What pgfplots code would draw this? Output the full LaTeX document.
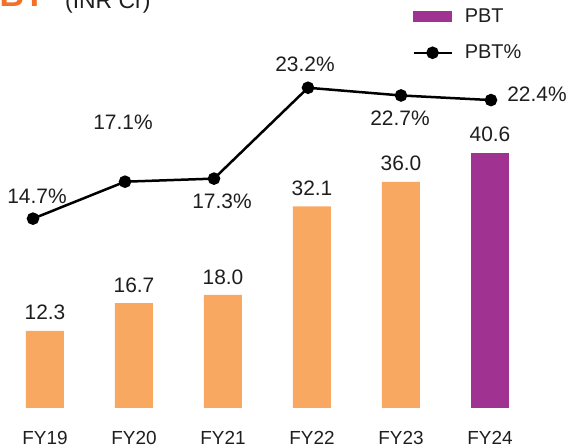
\documentclass[border=0pt]{standalone}
\usepackage{pgfplots}
\pgfplotsset{compat=1.18}
\usepackage{fontspec}
\setmainfont{Liberation Sans}
\definecolor{barorange}{RGB}{249,168,98}
\definecolor{barpurple}{RGB}{160,50,145}
\definecolor{titleorange}{RGB}{242,112,40}
\definecolor{txt}{RGB}{30,30,30}
\begin{document}
\begin{tikzpicture}
\useasboundingbox (0,0) rectangle (570bp,448bp);
\clip (0,0) rectangle (570bp,448bp);
\begin{axis}[at={(0,0)}, anchor=south west, scale only axis, width=570bp, height=448bp,
 xmin=-0.5056, xmax=5.899, ymin=-6.37, ymax=64.97,
 axis line style={draw=none}, major tick length=0pt, ytick=\empty,
 xtick={0,...,5}, xticklabels={FY19,FY20,FY21,FY22,FY23,FY24},
 xticklabel style={anchor=base, yshift=4bp, inner sep=0pt, font=\fontsize{19}{22}\selectfont, text=txt},
 ybar, bar width=38bp, bar shift=0pt, clip=false]
\addplot[fill=barorange, draw=none] coordinates {(0,12.3)(1,16.7)(2,18.0)(3,32.1)(4,36.0)};
\addplot[fill=barpurple, draw=none] coordinates {(5,40.6)};
\begin{scope}[every node/.style={font=\fontsize{21}{25}\selectfont, text=txt, inner sep=0pt}]
\node[yshift=18bp] at (axis cs:0,12.3) {12.3};
\node[yshift=18bp] at (axis cs:1,16.7) {16.7};
\node[yshift=18bp] at (axis cs:2,18.0) {18.0};
\node[yshift=18bp] at (axis cs:3,32.1) {32.1};
\node[yshift=19bp] at (axis cs:4,36.0) {36.0};
\node[yshift=19bp] at (axis cs:5,40.6) {40.6};
\end{scope}
\end{axis}
\begin{axis}[at={(0,0)}, anchor=south west, scale only axis, width=570bp, height=448bp,
 xmin=-0.5056, xmax=5.899, ymin=-0.195, ymax=28.9, hide axis, clip=false,
 legend style={draw=none, fill=none, at={(axis description cs:0.723,0.985)}, anchor=north west,
   inner sep=0pt, font=\fontsize{20}{24}\selectfont, text=txt, row sep=17bp, column sep=10bp},
 legend cell align=left]
\addlegendimage{legend image code/.code={\fill[barpurple] (0bp,-5bp) rectangle (38bp,5bp);}}
\addlegendentry{PBT}
\addplot[black, line width=2.5bp, mark=*, mark size=5bp,
  legend image code/.code={\draw[black,line width=2.5bp] (0bp,0bp)--(38bp,0bp); \fill[black] (19bp,0bp) circle (5bp);}]
  coordinates {(-0.135,14.7)(0.899,17.1)(1.899,17.3)(2.955,23.2)(4.0,22.7)(5.011,22.4)};
\addlegendentry{PBT\%}
\begin{scope}[every node/.style={font=\fontsize{21}{25}\selectfont, text=txt, inner sep=0pt}]
\node[xshift=4bp, yshift=22bp] at (axis cs:-0.135,14.7) {14.7\%};
\node[xshift=-2bp, yshift=59bp] at (axis cs:0.899,17.1) {17.1\%};
\node[xshift=8bp, yshift=-23bp] at (axis cs:1.899,17.3) {17.3\%};
\node[xshift=-3bp, yshift=23bp] at (axis cs:2.955,23.2) {23.2\%};
\node[xshift=-1bp, yshift=-23bp] at (axis cs:4.0,22.7) {22.7\%};
\node[xshift=46bp, yshift=6bp] at (axis cs:5.011,22.4) {22.4\%};
\end{scope}
\end{axis}
\node[anchor=base east, inner sep=0pt, font=\bfseries\fontsize{34}{40}\selectfont, text=titleorange] at (45bp,441bp) {PBT};
\node[anchor=base west, inner sep=0pt, font=\fontsize{23}{27}\selectfont, text=txt] at (65bp,439bp) {(INR Cr)};
\end{tikzpicture}
\end{document}
